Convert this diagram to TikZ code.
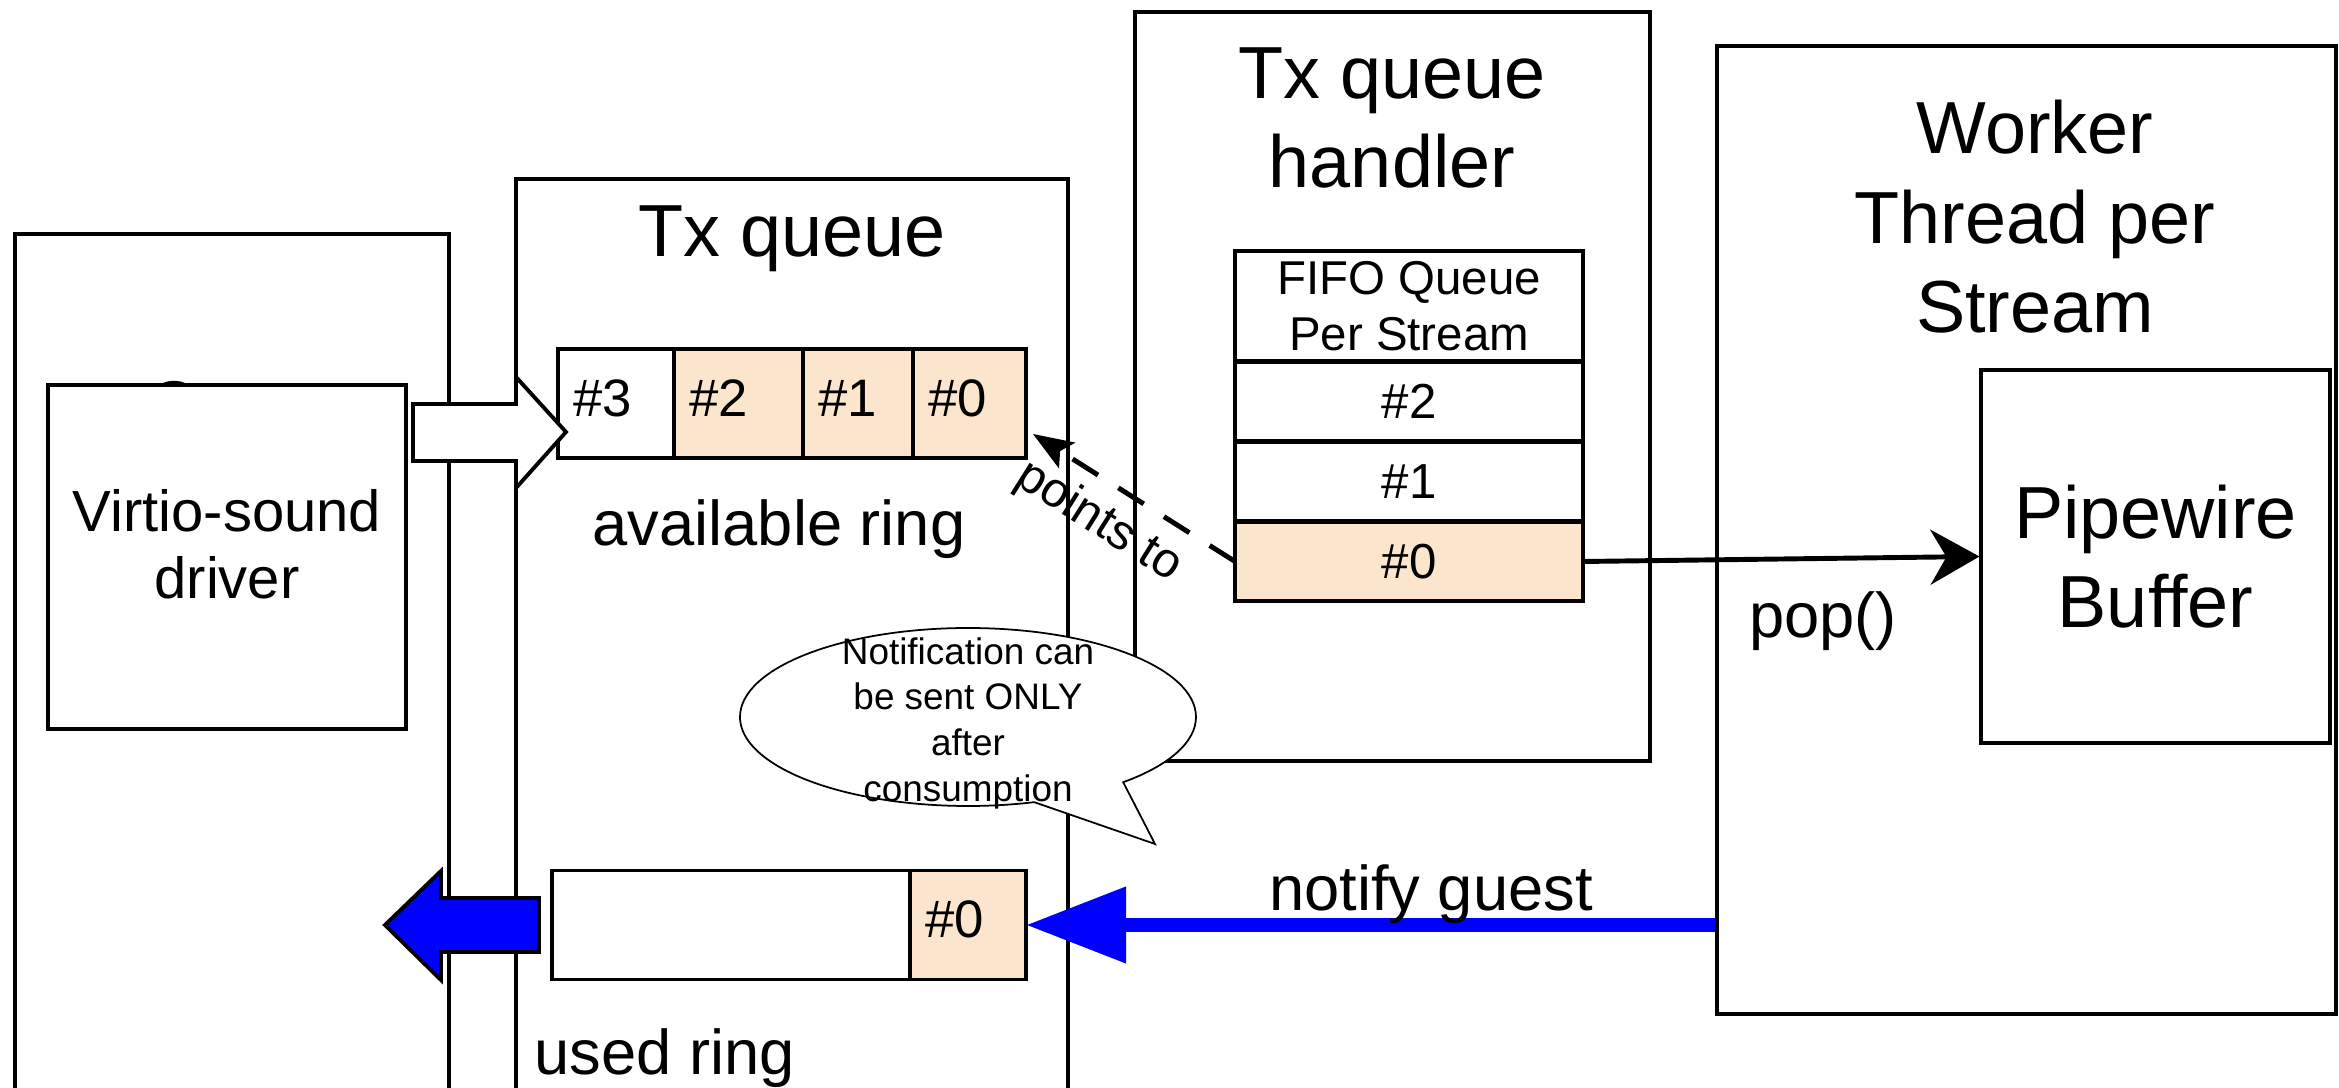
\documentclass[tikz,border=0pt]{standalone}
\usepackage{fontspec}
\setmainfont{Liberation Sans}
\usetikzlibrary{positioning,arrows.meta,shapes.callouts}
\definecolor{peach}{HTML}{FCE5CD}
\definecolor{notifyblue}{HTML}{0000FF}

\begin{document}
\begin{tikzpicture}[x=0.1mm,y=-0.1mm] % one unit is one pixel of the sketch
\tikzset{container/.style={draw,rectangle,line width=0.9pt,inner sep=0pt}} % big outer boxes
\tikzset{ringcell/.style={draw,rectangle,line width=1.1pt,outer sep=0pt,inner xsep=1.5mm,inner ysep=0pt,minimum height=10.9mm,align=left,text height=0.72em,text depth=0pt,font=\fontsize{15}{18}\selectfont}}
\tikzset{fifocell/.style={draw,rectangle,line width=1.1pt,outer sep=0pt,fill=white,inner sep=0pt,minimum width=34.8mm,minimum height=7.9mm,font=\fontsize{14}{16}\selectfont}}
\tikzset{title/.style={font=\fontsize{21}{25.5}\selectfont,align=center,inner sep=0pt}}
\tikzset{midtext/.style={font=\fontsize{18}{21}\selectfont,inner sep=0pt}}
\useasboundingbox (0,0) rectangle (2339,1088);
\clip (0,0) rectangle (2339,1088);
% guest side
\node[container,minimum width=43.4mm,minimum height=88.6mm] (guest) at (232,677) {};
\node[midtext,anchor=base] (guesttitle) at (234,426) {Guest};
\node[container,fill=white,minimum width=35.8mm,minimum height=34.4mm] (driver) at (227,557) {};
\node[align=center,inner sep=0pt,font=\fontsize{16.5}{19}\selectfont] (drivertext) at (227,544) {Virtio-sound\\driver};
% device side
\node[container,minimum width=55.2mm,minimum height=94.1mm] (txq) at (792,649.5) {};
\node[title,anchor=base] (txqtitle) at (792,257) {Tx queue};
\node[container,minimum width=51.5mm,minimum height=74.9mm] (handler) at (1392.5,386.5) {};
\node[title] (handlertitle) at (1392,118) {Tx queue\\handler};
\node[container,minimum width=61.9mm,minimum height=96.8mm] (worker) at (2026.5,530) {};
\node[title] (workertitle) at (2035,217) {Worker\\Thread per\\Stream};
\node[container,title,minimum width=34.9mm,minimum height=37.3mm] (pw) at (2155.5,556.5) {Pipewire\\Buffer};
% available ring
\node[ringcell,fill=white,text width=8.6mm,anchor=west] (a3) at (558,403.5) {\#3};
\node[ringcell,fill=peach,text width=9.9mm,right=0pt of a3] (a2) {\#2};
\node[ringcell,fill=peach,text width=8mm,right=0pt of a2] (a1) {\#1};
\node[ringcell,fill=peach,text width=8.3mm,right=0pt of a1] (a0) {\#0};
\node[midtext,anchor=base] (availtext) at (779,546) {available ring};
% used ring
\node[ringcell,fill=white,text width=32.8mm,anchor=west] (ublank) at (552,925) {};
\node[ringcell,fill=peach,text width=8.6mm,right=0pt of ublank] (u0) {\#0};
\node[midtext,anchor=base west] (usedtext) at (534,1074) {used ring};
% fifo of the handler
\node[fifocell,minimum height=11mm,align=center,font=\fontsize{13.5}{16}\selectfont] (fifohead) at (1409,306) {FIFO Queue\\Per Stream};
\node[fifocell,below=0.1mm of fifohead] (f2) {\#2};
\node[fifocell,below=0.1mm of f2] (f1) {\#1};
\node[fifocell,fill=peach,below=0.1mm of f1] (f0) {\#0};
% fat arrows in and out of the guest
\draw[line width=1.1pt,fill=white] (413,404) -- (516,404) -- (516,377) -- (566,432) -- (516,488) -- (516,461) -- (413,461) -- cycle;
\draw[line width=1.1pt,fill=notifyblue] (539,898) -- (441,898) -- (441,871) -- (385,925) -- (441,980) -- (441,952) -- (539,952) -- cycle;
% speech bubble
\node[ellipse callout,draw,fill=white,line width=0.5pt,inner sep=0pt,minimum width=45.6mm,minimum height=17.8mm,callout absolute pointer={(1155,844)},callout pointer arc=26] (note) at (968,717) {};
\node[align=center,inner sep=0pt,yshift=-0.6mm,font=\fontsize{10.5}{13}\selectfont] (notetext) at (note.center) {Notification can\\be sent ONLY\\after\\consumption};
% connectors
\coordinate (ptip) at (1033,434);
\draw[line width=1.4pt,dash pattern=on 3mm off 2.4mm,-{Stealth[length=4mm,width=3mm,inset=0.8mm]}] (f0.west) -- node[pos=0.57,sloped,below,inner sep=4pt,font=\fontsize{14}{16}\selectfont] (pointstext) {points to} (ptip);
\draw[line width=1.4pt,-{Stealth[length=4.9mm,width=5.5mm,inset=1.6mm]}] (f0.east) -- (pw.west);
\draw[line width=4pt,notifyblue,-{Triangle[length=10mm,width=7.3mm]}] (worker.west |- u0.east) -- (u0.east);
\node[midtext,anchor=base] (notifytext) at (1431,910) {notify guest};
\node[midtext,anchor=base] (poptext) at (1823,638) {pop()};
\end{tikzpicture}
\end{document}
